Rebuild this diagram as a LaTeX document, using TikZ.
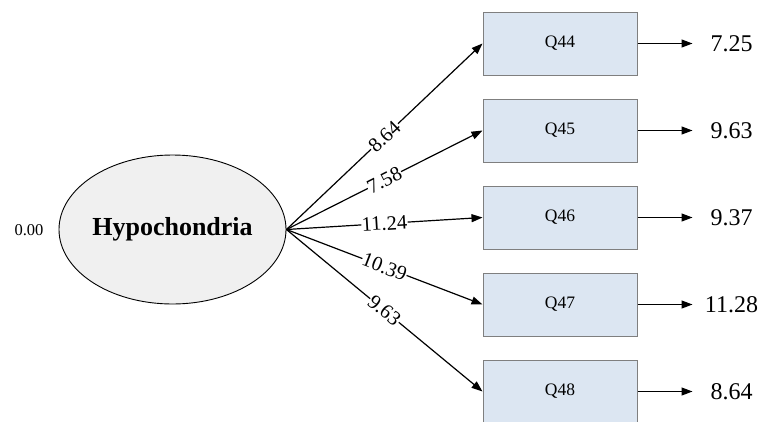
\documentclass[tikz,border=0pt]{standalone}
\usepackage{fontspec}
\setmainfont{Liberation Serif}
\usetikzlibrary{arrows.meta,shapes.geometric}
\definecolor{boxfill}{HTML}{DCE6F2}
\definecolor{boxline}{HTML}{7F7F7F}
\definecolor{latfill}{HTML}{F0F0F0}
\tikzset{
  latent/.style={ellipse, draw=black, line width=0.9pt, fill=latfill, minimum width=227pt, minimum height=149pt, inner sep=0pt, font=\fontsize{26}{29}\selectfont\bfseries},
  ind/.style={rectangle, draw=boxline, line width=1pt, fill=boxfill, minimum width=154pt, minimum height=63pt, inner sep=0pt, font=\fontsize{17.5}{20}\selectfont},
  arr/.style={line width=1.2pt, -{Triangle[length=11pt,width=8pt]}},
  lab/.style={fill=white, inner sep=0.5pt, sloped, midway, font=\fontsize{20.5}{23}\selectfont},
  val/.style={inner sep=0pt, font=\fontsize{24}{27}\selectfont},
  mean/.style={inner sep=0pt, font=\fontsize{16.5}{19}\selectfont}
}
\begin{document}
\begin{tikzpicture}[x=1pt,y=-1pt]
\useasboundingbox (0,0) rectangle (765,421);
\clip (0,0) rectangle (765,421);
\node[latent] (L) at (172.5,229.5) {Hypochondria};
\node[mean] (m) at (29,230) {0.00};
\node[ind] (Q44) at (560,43.5) {Q44};
\node[ind] (Q45) at (560,130.5) {Q45};
\node[ind] (Q46) at (560,217.5) {Q46};
\node[ind] (Q47) at (560,304.5) {Q47};
\node[ind] (Q48) at (560,391.5) {Q48};
\draw[arr] (L.east) -- node[lab] {8.64} (Q44.west);
\draw[arr] (L.east) -- node[lab] {7.58} (Q45.west);
\draw[arr] (L.east) -- node[lab] {11.24} (Q46.west);
\draw[arr] (L.east) -- node[lab] {10.39} (Q47.west);
\draw[arr] (L.east) -- node[lab] {9.63} (Q48.west);
\foreach \q/\v in {44/7.25,45/9.63,46/9.37,47/11.28,48/8.64}{
  \coordinate (e\q) at ([xshift=55pt]Q\q.east);
  \node[val] (v\q) at ([xshift=94pt]Q\q.east) {\v};
  \draw[arr] (Q\q.east) -- (e\q);
}
\end{tikzpicture}
\end{document}
